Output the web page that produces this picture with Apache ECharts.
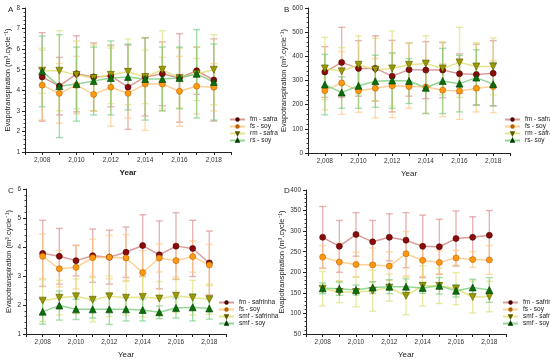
<!DOCTYPE html>
<html><head><meta charset="utf-8">
<script src="https://cdn.jsdelivr.net/npm/echarts@6/dist/echarts.min.js"></script>
<style>html,body{margin:0;padding:0;background:#fff}#c{width:550px;height:360px}</style>
</head><body><div id="c"></div>
<script>
const years = [2008,2009,2010,2011,2012,2013,2014,2015,2016,2017,2018];
const xTicks = [2008,2010,2012,2014,2016,2018];

// Panel A
const aFm = [4.65,4.2,4.8,4.65,4.7,4.15,4.65,4.8,4.6,4.95,4.5];
const aFmSd = [2.15,1.4,1.85,1.65,1.5,2.05,1.9,1.55,2.15,1.15,2.0];
const aFs = [4.25,3.85,4.25,3.8,4.15,3.85,4.3,4.3,3.95,4.2,4.15];
const aFsSd = [1.7,1.45,1.4,0.8,1.9,1.2,2.25,1.3,1.7,1.35,1.15];
const aRm = [4.95,4.95,4.75,4.6,4.75,4.9,4.65,5.0,4.6,4.8,5.0];
const aRmSd = [1.1,1.95,1.65,1.6,1.4,1.6,1.3,1.9,1.45,1.3,1.7];
const aRs = [4.92,4.2,4.3,4.45,4.6,4.65,4.55,4.55,4.6,4.8,4.4];
const aRsSd = [1.72,2.5,1.8,1.65,1.8,1.6,2.0,1.55,1.5,2.15,1.85];

// Panel B
const bFm = [335,375,350,350,318,345,343,343,328,325,330];
const bFmSd = [105,145,115,135,148,110,118,114,82,125,135];
const bFs = [258,290,258,268,278,275,273,260,257,268,275];
const bFsSd = [80,130,90,123,132,90,108,110,118,98,108];
const bRm = [350,338,365,345,350,365,370,350,375,358,358];
const bRmSd = [129,98,120,130,155,90,115,110,145,98,118];
const bRs = [283,250,278,297,300,298,270,298,287,312,285];
const bRsSd = [125,65,93,108,115,93,107,135,117,115,90];

// Panel C
const cFm = [3.78,3.68,3.53,3.7,3.65,3.82,4.05,3.73,4.03,3.95,3.45];
const cFmSd = [1.14,0.96,0.53,0.92,0.93,0.87,1.06,1.17,1.15,0.97,1.1];
const cFs = [3.68,3.25,3.3,3.63,3.65,3.62,3.12,3.62,3.53,3.67,3.38];
const cFsSd = [0.77,0.63,0.75,0.64,0.75,0.81,0.75,0.48,0.57,0.54,0.71];
const cSmfS = [2.15,2.25,2.3,2.18,2.3,2.25,2.28,2.22,2.32,2.25,2.2];
const cSmfSSd = [0.72,0.6,0.6,0.76,0.7,0.6,0.69,0.59,0.58,0.6,0.52];
const cSmf = [1.77,1.98,1.85,1.85,1.85,1.85,1.83,1.75,1.9,1.92,1.88];
const cSmfSd = [0.43,0.5,0.35,0.3,0.52,0.4,0.38,0.22,0.35,0.47,0.37];

// Panel D
const dFm = [285,263,292,274,285,278,263,262,282,285,290];
const dFmSd = [75,63,53,52,57,67,76,67,67,50,60];
const dFs = [237,225,219,218,215,245,229,224,235,231,230];
const dFsSd = [28,46,30,41,35,54,39,28,18,19,35];
const dSmfS = [160,152,152,155,163,143,167,167,160,140,141];
const dSmfSSd = [42,26,36,50,33,46,49,43,39,39,37];
const dSmf = [161,160,157,163,165,165,162,167,155,163,157];
const dSmfSd = [13,16,12,14,17,19,13,20,15,20,30];

const ST = {
  red:    {mk:'#8b0a0a', bd:'#4a0000', ln:'rgba(205,120,120,0.75)', er:'rgba(215,130,130,0.6)', sym:'circle', rot:0},
  orange: {mk:'#ff9a10', bd:'#b86000', ln:'rgba(255,200,130,0.85)', er:'rgba(255,195,120,0.6)', sym:'circle', rot:0},
  olive:  {mk:'#9a9a00', bd:'#5a5a00', ln:'rgba(225,225,120,0.85)', er:'rgba(220,220,110,0.6)', sym:'triangle', rot:180},
  green:  {mk:'#0b6e0b', bd:'#003a00', ln:'rgba(120,205,120,0.8)', er:'rgba(110,200,120,0.6)', sym:'triangle', rot:0}
};

const FONT = 'Liberation Sans, Arial, sans-serif';
const panels = [
  {grid:{left:25,top:8,width:206,height:144}, y:{min:1,max:8,interval:1,minor:5}, label:'A', lx:8, ly:6,
   legend:{left:229,top:116}, yearBold:true,
   s:[['fm - safra',aFm,aFmSd,'red'],['fs - soy',aFs,aFsSd,'orange'],['rm - safra',aRm,aRmSd,'olive'],['rs - soy',aRs,aRsSd,'green']]},
  {grid:{left:308,top:8,width:202,height:145}, y:{min:0,max:600,interval:100,minor:5}, label:'B', lx:284, ly:6,
   legend:{left:504,top:116}, yearBold:false,
   s:[['fm - safra',bFm,bFmSd,'red'],['fs - soy',bFs,bFsSd,'orange'],['rm - safra',bRm,bRmSd,'olive'],['rs- soy',bRs,bRsSd,'green']]},
  {grid:{left:26,top:189,width:200,height:145}, y:{min:1,max:6,interval:1,minor:5}, label:'C', lx:8, ly:187,
   legend:{left:218,top:299}, yearBold:false,
   s:[['fm - safrinha',cFm,cFmSd,'red'],['fs - soy',cFs,cFsSd,'orange'],['smf - safrinha',cSmfS,cSmfSSd,'olive'],['smf - soy',cSmf,cSmfSd,'green']]},
  {grid:{left:306,top:190,width:200,height:144}, y:{min:50,max:400,interval:50,minor:5}, label:'D', lx:284, ly:187,
   legend:{left:502,top:299}, yearBold:false,
   s:[['fm - safrinha',dFm,dFmSd,'red'],['fs - soy',dFs,dFsSd,'orange'],['smf - safrinha',dSmfS,dSmfSSd,'olive'],['smf - soy',dSmf,dSmfSd,'green']]}
];

const grid=[], xAxis=[], yAxis=[], series=[], legend=[], graphic=[];
panels.forEach((p,i)=>{
  grid.push(p.grid);
  xAxis.push({type:'value', gridIndex:i, min:2007, max:2019, interval:1,
    name:'Year', nameLocation:'middle', nameGap:17,
    nameTextStyle:{fontSize:8, color:'#222', fontFamily:FONT, fontWeight:p.yearBold?'bold':'normal'},
    axisLine:{lineStyle:{color:'#222',width:1}}, axisTick:{length:3,lineStyle:{color:'#222'}},
    axisLabel:{customValues:xTicks, fontSize:6.5, color:'#333', margin:5, fontFamily:FONT},
    splitLine:{show:false}});
  yAxis.push({type:'value', gridIndex:i, min:p.y.min, max:p.y.max, interval:p.y.interval,
    name:'Evapotranspiration (m³.cycle⁻¹)', nameLocation:'middle', nameGap: (p.y.max>=100?19:13),
    nameTextStyle:{fontSize:7.5, color:'#222', fontFamily:FONT},
    axisLine:{show:true, lineStyle:{color:'#222',width:1}}, axisTick:{show:true,length:3,lineStyle:{color:'#222'}},
    minorTick:{show:true, splitNumber:p.y.minor, length:1.5, lineStyle:{color:'#444'}},
    axisLabel:{fontSize:6.5, color:'#333', margin:5, fontFamily:FONT},
    splitLine:{show:false}});
  const names=[];
  p.s.forEach(([name,mean,sd,key])=>{
    const st=ST[key];
    names.push(name);
    series.push({type:'custom', xAxisIndex:i, yAxisIndex:i, silent:true, z:1,
      data: years.map((yr,k)=>[yr, mean[k]-sd[k], mean[k]+sd[k]]),
      renderItem:(params,api)=>{
        const x=api.value(0);
        const a=api.coord([x,api.value(1)]), b=api.coord([x,api.value(2)]);
        const w=3.5, style={stroke:st.er, lineWidth:1.4};
        return {type:'group', children:[
          {type:'line', shape:{x1:a[0],y1:a[1],x2:b[0],y2:b[1]}, style},
          {type:'line', shape:{x1:a[0]-w,y1:a[1],x2:a[0]+w,y2:a[1]}, style},
          {type:'line', shape:{x1:b[0]-w,y1:b[1],x2:b[0]+w,y2:b[1]}, style}
        ]};
      }});
    series.push({type:'line', name, xAxisIndex:i, yAxisIndex:i, z:3,
      data: years.map((yr,k)=>[yr, mean[k]]),
      symbol:st.sym, symbolRotate:st.rot, symbolSize:st.sym==='circle'?6:7, showSymbol:true,
      lineStyle:{color:st.ln, width:1.5},
      itemStyle:{color:st.mk, borderColor:st.bd, borderWidth:0.6},
      emphasis:{disabled:true}, animation:false});
  });
  legend.push({data:names, orient:'vertical', left:p.legend.left, top:p.legend.top, padding:0,
    itemWidth:15, itemHeight:3, itemGap:0,
    textStyle:{fontSize:6.5, color:'#222', fontFamily:FONT}, selectedMode:false});
  graphic.push({type:'text', left:p.lx, top:p.ly, style:{text:p.label, font:'8px '+FONT, fill:'#222'}});
});

const chart = echarts.init(document.getElementById('c'), null, {renderer:'canvas'});
chart.setOption({animation:false, backgroundColor:'#fff', grid, xAxis, yAxis, series, legend, graphic,
  textStyle:{fontFamily:FONT}});
</script></body></html>
